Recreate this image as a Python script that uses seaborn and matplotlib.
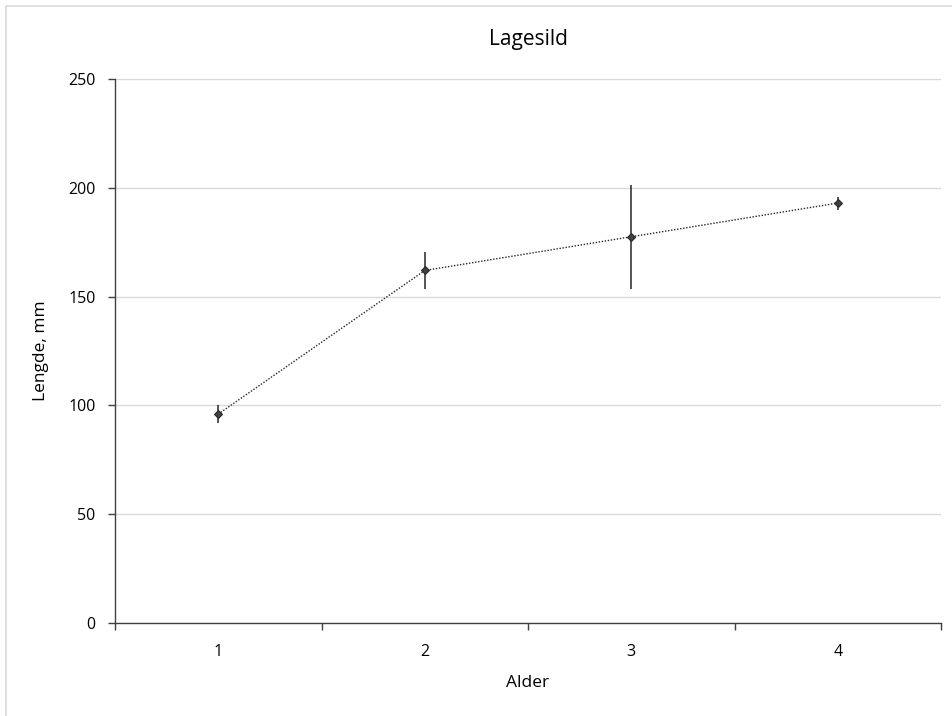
import matplotlib
matplotlib.use("Agg")
import matplotlib.pyplot as plt
from matplotlib.patches import Rectangle
from matplotlib.ticker import FixedLocator, NullFormatter
import seaborn as sns
import pandas as pd

# Mean length per age group with spread
ages = [1, 2, 3, 4]
age_labels = ["1", "2", "3", "4"]
mean_length = [96, 162, 177.5, 193]
spread = [4, 8.3, 24, 3]

sns.set_theme(style="white")
plt.rcParams["font.family"] = ["Open Sans", "DejaVu Sans"]

df = pd.DataFrame({"Alder": ages, "Lengde": mean_length})

fig = plt.figure(figsize=(9.52, 7.16), dpi=100)
ax = fig.add_axes([115 / 952, 1 - 623 / 716, 826 / 952, 544 / 716])

# Thin frame around the chart area (top and left edges visible)
fig.patches.append(Rectangle((6 / 952, -0.1), 1.2, 1 - 6 / 716 + 0.1,
                             transform=fig.transFigure, fill=False,
                             edgecolor="#d9d9d9", linewidth=1.2))

ax.errorbar(ages, mean_length, yerr=spread, fmt="none", ecolor="#262626",
            elinewidth=1.1, capsize=0, zorder=2)
sns.lineplot(data=df, x="Alder", y="Lengde", ax=ax, color="#262626",
             linestyle=(0, (1, 1.2)), linewidth=1.0, marker="D",
             markersize=4.5, markeredgecolor="#262626",
             markerfacecolor="#404040", zorder=3)

ax.set_xlim(0.5, 4.5)
ax.set_ylim(0, 250)
ax.set_yticks(range(0, 251, 50))
ax.yaxis.grid(True, color="#d9d9d9", linewidth=1.0)
ax.set_axisbelow(True)

# Category axis: boundary ticks, centred labels
ax.xaxis.set_major_locator(FixedLocator([0.5, 1.5, 2.5, 3.5, 4.5]))
ax.xaxis.set_major_formatter(NullFormatter())
ax.xaxis.set_minor_locator(FixedLocator(ages))
ax.set_xticklabels(age_labels, minor=True)
ax.tick_params(axis="x", which="major", length=5, width=1.0, color="#404040",
               direction="out", bottom=True)
ax.tick_params(axis="x", which="minor", length=0, labelsize=11.5,
               labelcolor="#000000", pad=15, bottom=True)
ax.tick_params(axis="y", length=5, width=1.0, color="#404040",
               direction="out", left=True, labelsize=11.5,
               labelcolor="#000000", pad=9)

for side in ["top", "right"]:
    ax.spines[side].set_visible(False)
for side in ["left", "bottom"]:
    ax.spines[side].set_color("#404040")
    ax.spines[side].set_linewidth(1.0)

ax.set_xlabel("Alder", fontsize=12.5, color="#000000", labelpad=11)
ax.set_ylabel("Lengde, mm", fontsize=12.5, color="#000000", labelpad=14)
fig.text(528 / 952, 1 - 40 / 716, "Lagesild", ha="center", va="center",
         fontsize=15, color="#000000")

fig.savefig("out.png", dpi=100, facecolor="white")
